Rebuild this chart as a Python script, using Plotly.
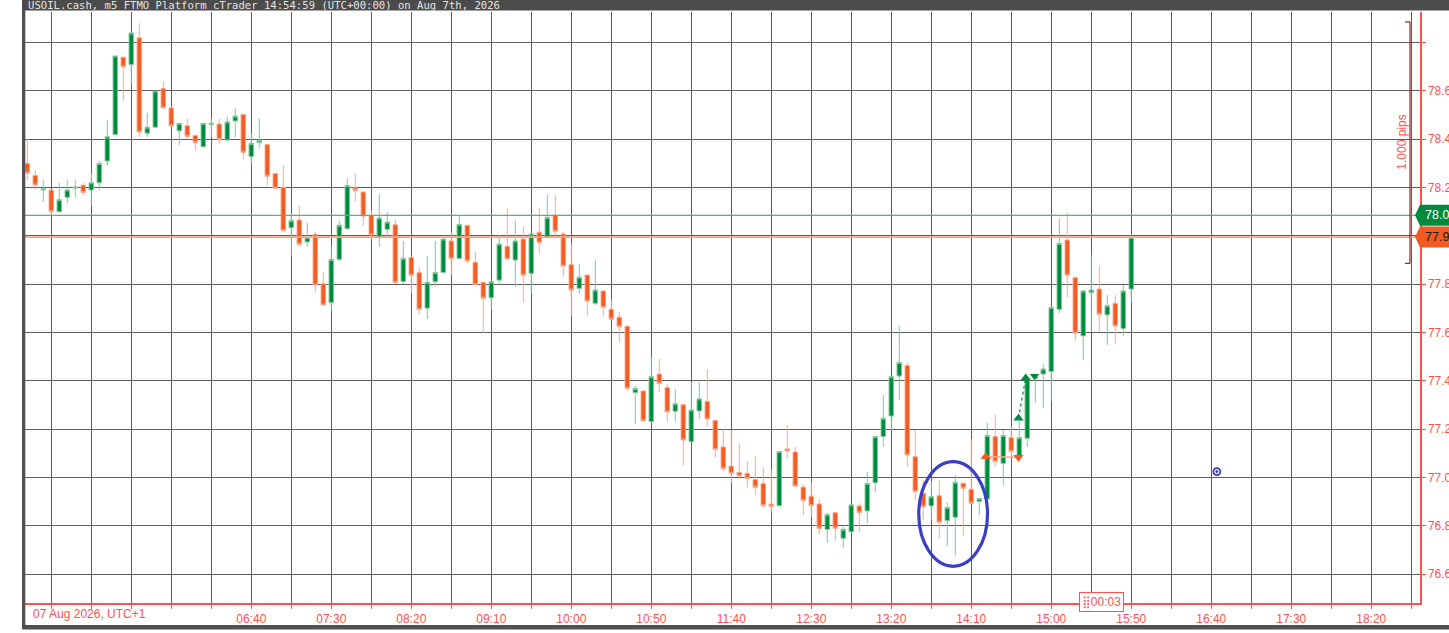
import pandas as pd
import plotly.graph_objects as go

# ---------------- data (USOIL.cash, m5, 07 Aug 2026, UTC+1) ----------------
bar_start = "2026-08-07 04:20"
open_ = [78.30, 78.25, 78.19, 78.19, 78.10, 78.16, 78.198, 78.21, 78.19, 78.22,
         78.31, 78.42, 78.74, 78.71, 78.82, 78.425, 78.45, 78.61, 78.53, 78.435,
         78.456, 78.416, 78.369, 78.462, 78.463, 78.397, 78.476, 78.503, 78.329, 78.386,
         78.378, 78.258, 78.201, 78.034, 78.066, 77.975, 78.006, 77.802, 77.724, 77.903,
         78.030, 78.198, 78.182, 78.084, 77.994, 78.027, 78.046, 77.811, 77.911, 77.848,
         77.701, 77.81, 77.849, 77.979, 77.907, 78.044, 77.891, 77.808, 77.744, 77.817,
         77.957, 77.90, 77.987, 77.845, 78.015, 77.994, 78.085, 78.008, 77.881, 77.783,
         77.838, 77.721, 77.772, 77.696, 77.663, 77.626, 77.351, 77.358, 77.231, 77.428,
         77.372, 77.274, 77.301, 77.148, 77.275, 77.315, 77.236, 77.126, 77.047, 77.021,
         77.017, 76.991, 76.975, 76.890, 76.883, 77.118, 77.105, 76.960, 76.922, 76.890,
         76.785, 76.854, 76.748, 76.775, 76.882, 76.861, 76.978, 77.169, 77.254, 77.420,
         77.463, 77.086, 76.934, 76.882, 76.924, 76.821, 76.835, 76.976, 76.951, 76.900,
         76.911, 77.169, 77.058, 77.165, 77.086, 77.162, 77.410, 77.428, 77.438, 77.696,
         77.983, 77.827, 77.586, 77.766, 77.780, 77.673, 77.721, 77.617, 77.780]
high = [78.40, 78.27, 78.23, 78.19, 78.22, 78.23, 78.23, 78.22, 78.26, 78.31,
        78.48, 78.745, 78.74, 78.84, 78.88, 78.51, 78.60, 78.64, 78.535, 78.466,
        78.484, 78.416, 78.466, 78.488, 78.485, 78.494, 78.528, 78.503, 78.425, 78.487,
        78.378, 78.258, 78.294, 78.094, 78.124, 78.055, 78.018, 77.851, 77.958, 78.063,
        78.238, 78.259, 78.182, 78.107, 78.173, 78.098, 78.066, 77.979, 77.911, 77.868,
        77.917, 77.979, 77.987, 78.015, 78.084, 78.044, 77.933, 77.808, 77.81, 78.004,
        78.113, 78.064, 78.037, 78.008, 78.116, 78.17, 78.167, 78.018, 77.969, 77.882,
        77.838, 77.902, 77.772, 77.737, 77.686, 77.626, 77.381, 77.358, 77.500, 77.490,
        77.387, 77.365, 77.301, 77.392, 77.396, 77.448, 77.236, 77.198, 77.196, 77.140,
        77.068, 77.087, 77.038, 77.031, 77.107, 77.216, 77.126, 76.973, 76.980, 76.909,
        76.854, 76.854, 76.796, 76.886, 76.893, 77.024, 77.169, 77.341, 77.417, 77.627,
        77.476, 77.196, 76.989, 76.982, 76.989, 76.897, 77.009, 76.976, 77.159, 76.913,
        77.227, 77.261, 77.196, 77.210, 77.252, 77.417, 77.427, 77.468, 77.704, 78.073,
        78.096, 77.827, 77.772, 77.921, 77.875, 77.755, 77.755, 77.797, 78.004]
low = [78.23, 78.19, 78.14, 78.09, 78.10, 78.135, 78.16, 78.17, 78.125, 78.19,
       78.29, 78.42, 78.56, 78.63, 78.41, 78.41, 78.45, 78.53, 78.45, 78.375,
       78.40, 78.356, 78.369, 78.41, 78.38, 78.393, 78.407, 78.317, 78.30, 78.365,
       78.208, 78.197, 78.015, 77.917, 77.958, 77.955, 77.769, 77.714, 77.69, 77.896,
       78.024, 78.142, 78.041, 77.986, 77.955, 77.999, 77.806, 77.801, 77.762, 77.675,
       77.655, 77.79, 77.849, 77.838, 77.907, 77.886, 77.798, 77.597, 77.696, 77.797,
       77.904, 77.79, 77.724, 77.762, 77.928, 77.994, 77.994, 77.835, 77.667, 77.762,
       77.670, 77.714, 77.670, 77.655, 77.558, 77.359, 77.220, 77.234, 77.231, 77.352,
       77.231, 77.231, 77.049, 77.148, 77.243, 77.210, 77.082, 77.024, 76.978, 76.992,
       76.959, 76.929, 76.872, 76.854, 76.883, 77.078, 76.964, 76.844, 76.837, 76.766,
       76.730, 76.738, 76.709, 76.775, 76.775, 76.810, 76.938, 77.127, 77.196, 77.321,
       77.042, 76.906, 76.824, 76.824, 76.748, 76.716, 76.677, 76.755, 76.893, 76.844,
       76.911, 77.044, 76.969, 77.086, 77.065, 77.127, 77.310, 77.286, 77.314, 77.679,
       77.746, 77.566, 77.486, 77.603, 77.603, 77.548, 77.555, 77.586, 77.724]
close = [78.26, 78.21, 78.195, 78.10, 78.15, 78.19, 78.202, 78.18, 78.22, 78.30,
         78.41, 78.745, 78.70, 78.84, 78.43, 78.45, 78.60, 78.53, 78.455, 78.466,
         78.412, 78.386, 78.466, 78.466, 78.40, 78.472, 78.496, 78.346, 78.383, 78.396,
         78.247, 78.197, 78.022, 78.063, 77.965, 77.994, 77.797, 77.714, 77.902, 78.044,
         78.209, 78.187, 78.082, 78.004, 78.074, 78.057, 77.806, 77.907, 77.837, 77.695,
         77.808, 77.848, 77.987, 77.906, 78.048, 77.896, 77.798, 77.742, 77.81, 77.966,
         77.904, 77.979, 77.837, 78.008, 77.972, 78.076, 78.019, 77.875, 77.776, 77.829,
         77.730, 77.776, 77.703, 77.655, 77.624, 77.369, 77.368, 77.234, 77.417, 77.388,
         77.271, 77.305, 77.155, 77.279, 77.325, 77.242, 77.116, 77.036, 77.017, 77.006,
         76.996, 76.959, 76.883, 76.880, 77.107, 77.109, 76.964, 76.904, 76.883, 76.789,
         76.846, 76.789, 76.785, 76.886, 76.854, 76.975, 77.169, 77.245, 77.417, 77.476,
         77.093, 76.941, 76.879, 76.920, 76.814, 76.875, 76.980, 76.955, 76.893, 76.913,
         77.174, 77.065, 77.174, 77.107, 77.165, 77.410, 77.427, 77.449, 77.704, 77.969,
         77.838, 77.597, 77.772, 77.776, 77.675, 77.711, 77.627, 77.772, 77.994]

ask_price, bid_price = 78.085, 77.995
ask_text, bid_text = "78.08", "77.99"

x_tick_labels = ["06:40", "07:30", "08:20", "09:10", "10:00", "10:50", "11:40",
                 "12:30", "13:20", "14:10", "15:00", "15:50", "16:40", "17:30", "18:20"]
y_tick_values = [76.6, 76.8, 77.0, 77.2, 77.4, 77.6, 77.8, 78.0, 78.2, 78.4, 78.6, 78.8]
# 78.00 sits under the price tags and 78.80 is not labelled in the reference
y_tick_labels = ["76.60", "76.80", "77.00", "77.20", "77.40", "77.60", "77.80",
                 "", "78.20", "78.40", "78.60", ""]

# trade markers (time, price)
sell_times = ["2026-08-07 14:19:00", "2026-08-07 14:39:30"]
sell_prices = [77.086, 77.083]
buy_times = ["2026-08-07 14:39:30", "2026-08-07 14:44:00"]
buy_prices = [77.245, 77.412]
buy_close_time, buy_close_price = "2026-08-07 14:49:30", 77.420

# drawings
ellipse_t = ["2026-08-07 13:37:10", "2026-08-07 14:20:10"]
ellipse_p = [76.632, 77.065]
cursor_t, cursor_p = "2026-08-07 16:43:30", 77.024
measure_p = [77.886, 78.886]
measure_text = "1.000 pips"

view_x = ["2026-08-07 04:18:34", "2026-08-07 18:50:27"]
view_y = [76.480, 78.927]

title_text = "USOIL.cash, m5 FTMO Platform cTrader 14:54:59 (UTC+00:00) on Aug 7th, 2026"
date_label = "07 Aug 2026, UTC+1"
countdown = "\u28ff00:03"

# ---------------- styling ----------------
RED = "#ff5050"
GRID = "#5c5c5c"
GREEN_BODY, GREEN_WICK = "#008a3c", "#80c99d"
ORANGE_BODY, ORANGE_WICK = "#f25a22", "#f7aa8c"
BLUE = "#3b3fc4"

W, H = 1449, 633
ML, MR, MT, MB = 25, 29, 12, 30
pw = W - ML - MR
ph = H - MT - MB


def px_x(px):
    return (px - ML) / pw


def px_y(py):
    return (H - MB - py) / ph


def price_to_paper(p):
    return (p - view_y[0]) / (view_y[1] - view_y[0])


times = pd.date_range(bar_start, periods=len(close), freq="5min")

fig = go.Figure()
fig.add_trace(go.Candlestick(
    x=times, open=open_, high=high, low=low, close=close,
    increasing=dict(fillcolor=GREEN_BODY, line=dict(color=GREEN_WICK, width=1)),
    decreasing=dict(fillcolor=ORANGE_BODY, line=dict(color=ORANGE_WICK, width=1)),
    whiskerwidth=0, hoverinfo="skip", showlegend=False,
))

# trades
fig.add_trace(go.Scatter(
    x=pd.to_datetime(sell_times), y=sell_prices, mode="lines+markers",
    line=dict(color=ORANGE_WICK, width=1.5),
    marker=dict(symbol=["triangle-up", "triangle-down"], size=9, color=ORANGE_BODY),
    hoverinfo="skip", showlegend=False,
))
fig.add_trace(go.Scatter(
    x=pd.to_datetime(buy_times), y=buy_prices, mode="lines+markers",
    line=dict(color=GREEN_BODY, width=1.2, dash="dot"),
    marker=dict(symbol="triangle-up", size=9, color=GREEN_BODY),
    hoverinfo="skip", showlegend=False,
))
fig.add_trace(go.Scatter(
    x=[pd.Timestamp(buy_close_time)], y=[buy_close_price], mode="markers",
    marker=dict(symbol="triangle-down", size=8, color=GREEN_BODY),
    hoverinfo="skip", showlegend=False,
))
fig.add_trace(go.Scatter(
    x=[pd.Timestamp(cursor_t)], y=[cursor_p], mode="markers",
    marker=dict(symbol="circle-open-dot", size=7, color=BLUE, line=dict(width=1.8, color=BLUE)),
    hoverinfo="skip", showlegend=False,
))

shapes = []
# ask / bid lines
shapes.append(dict(type="line", xref="paper", yref="y", x0=0, x1=1, y0=ask_price, y1=ask_price,
                   line=dict(color="#55b07a", width=1.2)))
shapes.append(dict(type="line", xref="paper", yref="y", x0=0, x1=1, y0=bid_price, y1=bid_price,
                   line=dict(color="#f6a486", width=1.8)))
# ellipse
shapes.append(dict(type="circle", xref="x", yref="y", x0=ellipse_t[0], x1=ellipse_t[1],
                   y0=ellipse_p[0], y1=ellipse_p[1], line=dict(color=BLUE, width=3.2)))
# measurement line
mx = px_x(1410)
mx0 = px_x(1405)
shapes.append(dict(type="line", xref="paper", yref="y", x0=mx, x1=mx, y0=measure_p[0], y1=measure_p[1],
                   line=dict(color="#9b1c1c", width=1.2)))
for mp in measure_p:
    shapes.append(dict(type="line", xref="paper", yref="y", x0=mx0, x1=mx, y0=mp, y1=mp,
                       line=dict(color="#9b1c1c", width=1.2)))

# price tags (pentagons)
half = 0.0435
for p, col in [(ask_price, GREEN_BODY), (bid_price, ORANGE_BODY)]:
    yc, yt, yb = price_to_paper(p), price_to_paper(p + half), price_to_paper(p - half)
    xa, xb, xc = px_x(1415), px_x(1420), px_x(1470)
    shapes.append(dict(type="path", xref="paper", yref="paper",
                       path=f"M{xa},{yc} L{xb},{yt} L{xc},{yt} L{xc},{yb} L{xb},{yb} Z",
                       fillcolor=col, line=dict(width=0)))

# frame: header bar, left & bottom border
shapes.append(dict(type="rect", xref="paper", yref="paper", x0=px_x(22), x1=px_x(1470),
                   y0=px_y(10.5), y1=px_y(-5), fillcolor="#4b4b4b", line=dict(width=0)))
shapes.append(dict(type="rect", xref="paper", yref="paper", x0=px_x(22), x1=px_x(25.3),
                   y0=px_y(629), y1=px_y(10), fillcolor="#505050", line=dict(width=0)))
shapes.append(dict(type="rect", xref="paper", yref="paper", x0=px_x(22), x1=px_x(1470),
                   y0=px_y(629.5), y1=px_y(625), fillcolor="#505050", line=dict(width=0)))

annotations = [
    dict(xref="paper", yref="paper", x=px_x(26), y=px_y(5), xanchor="left", yanchor="middle",
         text=title_text, showarrow=False,
         font=dict(family="DejaVu Sans Mono", size=10.6, color="#e4e4e4")),
    dict(xref="paper", yref="paper", x=px_x(31), y=px_y(614), xanchor="left", yanchor="middle",
         text=date_label, showarrow=False,
         font=dict(family="Liberation Sans, Arial", size=12, color=RED)),
    dict(xref="paper", yref="y", x=px_x(1402), y=sum(measure_p) / 2, xanchor="center", yanchor="middle",
         text=measure_text, textangle=-90, showarrow=False,
         font=dict(family="Liberation Sans, Arial", size=12, color=RED)),
    dict(xref="paper", yref="y", x=px_x(1423), y=ask_price, xanchor="left", yanchor="middle",
         text=ask_text, showarrow=False,
         font=dict(family="Liberation Sans, Arial", size=12.5, color="#ffffff")),
    dict(xref="paper", yref="y", x=px_x(1423), y=bid_price, xanchor="left", yanchor="middle",
         text=bid_text, showarrow=False,
         font=dict(family="Liberation Sans, Arial", size=12.5, color="#1a1a1a")),
    dict(xref="paper", yref="paper", x=px_x(1101), y=px_y(602), xanchor="center", yanchor="middle",
         text=countdown, showarrow=False, bgcolor="#ffffff", bordercolor=RED, borderwidth=1,
         borderpad=2, font=dict(family="Liberation Sans, DejaVu Sans", size=12, color=RED)),
]

fig.update_layout(
    width=W, height=H,
    margin=dict(l=ML, r=MR, t=MT, b=MB, pad=0, autoexpand=False),
    paper_bgcolor="#ffffff", plot_bgcolor="#ffffff",
    shapes=shapes, annotations=annotations,
    showlegend=False, hovermode=False,
    boxgap=0.25, boxgroupgap=0.25,
    xaxis=dict(
        type="date", range=view_x, rangeslider=dict(visible=False), automargin=False,
        tickmode="array",
        tickvals=[pd.Timestamp("2026-08-07 " + t) for t in x_tick_labels],
        ticktext=x_tick_labels,
        showgrid=True, gridcolor=GRID, gridwidth=1,
        ticks="outside", ticklen=4, tickcolor=RED,
        minor=dict(tickmode="linear", tick0="2026-08-07 04:10", dtick=25 * 60 * 1000,
                   showgrid=True, gridcolor=GRID, gridwidth=1,
                   ticks="outside", ticklen=4, tickcolor=RED),
        showline=True, linecolor=RED, linewidth=1.5,
        tickfont=dict(family="Liberation Sans, Arial", size=12, color=RED),
        zeroline=False, fixedrange=True,
    ),
    yaxis=dict(
        side="right", range=view_y, tickmode="array", automargin=False,
        tickvals=y_tick_values, ticktext=y_tick_labels,
        showgrid=True, gridcolor=GRID, gridwidth=1,
        ticks="outside", ticklen=4, tickcolor=RED,
        showline=True, linecolor=RED, linewidth=1.5,
        tickfont=dict(family="Liberation Sans, Arial", size=12, color=RED),
        zeroline=False, fixedrange=True,
    ),
)

fig.write_html("out.html", config={"displayModeBar": False, "staticPlot": True},
               post_script="document.body.style.margin='0';document.body.style.overflow='hidden';")
